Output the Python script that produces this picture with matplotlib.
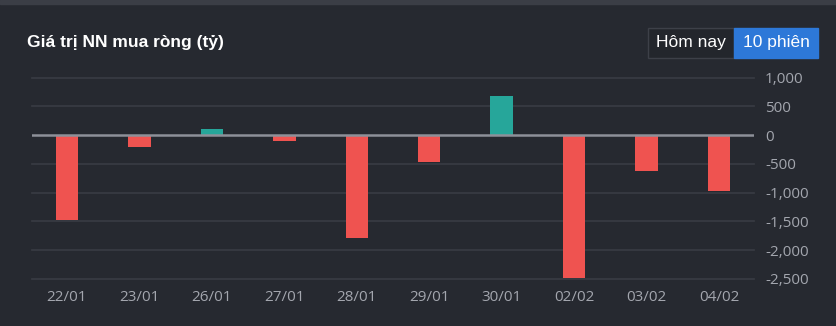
import matplotlib.pyplot as plt
from matplotlib.patches import Rectangle

dates = ['22/01', '23/01', '26/01', '27/01', '28/01',
         '29/01', '30/01', '02/02', '03/02', '04/02']
values = [-1470, -200, 110, -100, -1780, -470, 680, -2480, -620, -970]
yticks = [1000, 500, 0, -500, -1000, -1500, -2000, -2500]

bg = '#262930'
red = '#ef5350'
teal = '#26a69a'
txt = '#a3a6ae'

fig = plt.figure(figsize=(8.37, 3.26), dpi=100, facecolor=bg)
W, H = 837.0, 326.0

# top stripe
fig.patches.append(Rectangle((0, (H - 4) / H), 1, 4 / H, transform=fig.transFigure,
                             color='#3b3e46', zorder=0))

ax = fig.add_axes([32 / W, 47 / H, 722 / W, 201.5 / H])
ax.set_facecolor(bg)
x = range(len(dates))
colors = [teal if v >= 0 else red for v in values]
ax.bar(x, values, width=0.31, color=colors, zorder=3)
ax.set_xlim(-0.48, len(dates) - 0.52)
ax.set_ylim(-2500, 1000)
for t in yticks:
    if t == 0:
        continue
    ax.axhline(t, color='#393c44', lw=1.2, zorder=1, clip_on=False)
ax.axhline(0, color='#8d9099', lw=1.8, zorder=4)

ax.set_xticks(list(x))
ax.set_xticklabels(dates)
ax.yaxis.tick_right()
ax.set_yticks(yticks)
ax.set_yticklabels(['{:,}'.format(t) for t in yticks])
ax.tick_params(axis='both', length=0, colors=txt, labelsize=11)
ax.tick_params(axis='y', pad=8)
ax.tick_params(axis='x', pad=8)
for lab in ax.get_xticklabels() + ax.get_yticklabels():
    lab.set_family('Open Sans')
for s in ax.spines.values():
    s.set_visible(False)

fig.text(27 / W, 1 - 43 / H, 'Giá trị NN mua ròng (tỷ)', color='white',
         fontsize=12.5, fontweight='bold', family='Liberation Sans', va='center')

# buttons
fig.patches.append(Rectangle((648 / W, 1 - 58 / H), 86 / W, 30 / H,
                             transform=fig.transFigure, facecolor='#23262c',
                             edgecolor='#3d4048', lw=1))
fig.patches.append(Rectangle((734 / W, 1 - 58 / H), 84 / W, 30 / H,
                             transform=fig.transFigure, facecolor='#2d78d8',
                             edgecolor='#2d78d8', lw=1))
fig.text(691 / W, 1 - 43 / H, 'Hôm nay', color='white', fontsize=12.5,
         family='Liberation Sans', ha='center', va='center')
fig.text(776 / W, 1 - 43 / H, '10 phiên', color='white', fontsize=12.5,
         family='Liberation Sans', ha='center', va='center')

fig.savefig('out.png', dpi=100, facecolor=bg)
